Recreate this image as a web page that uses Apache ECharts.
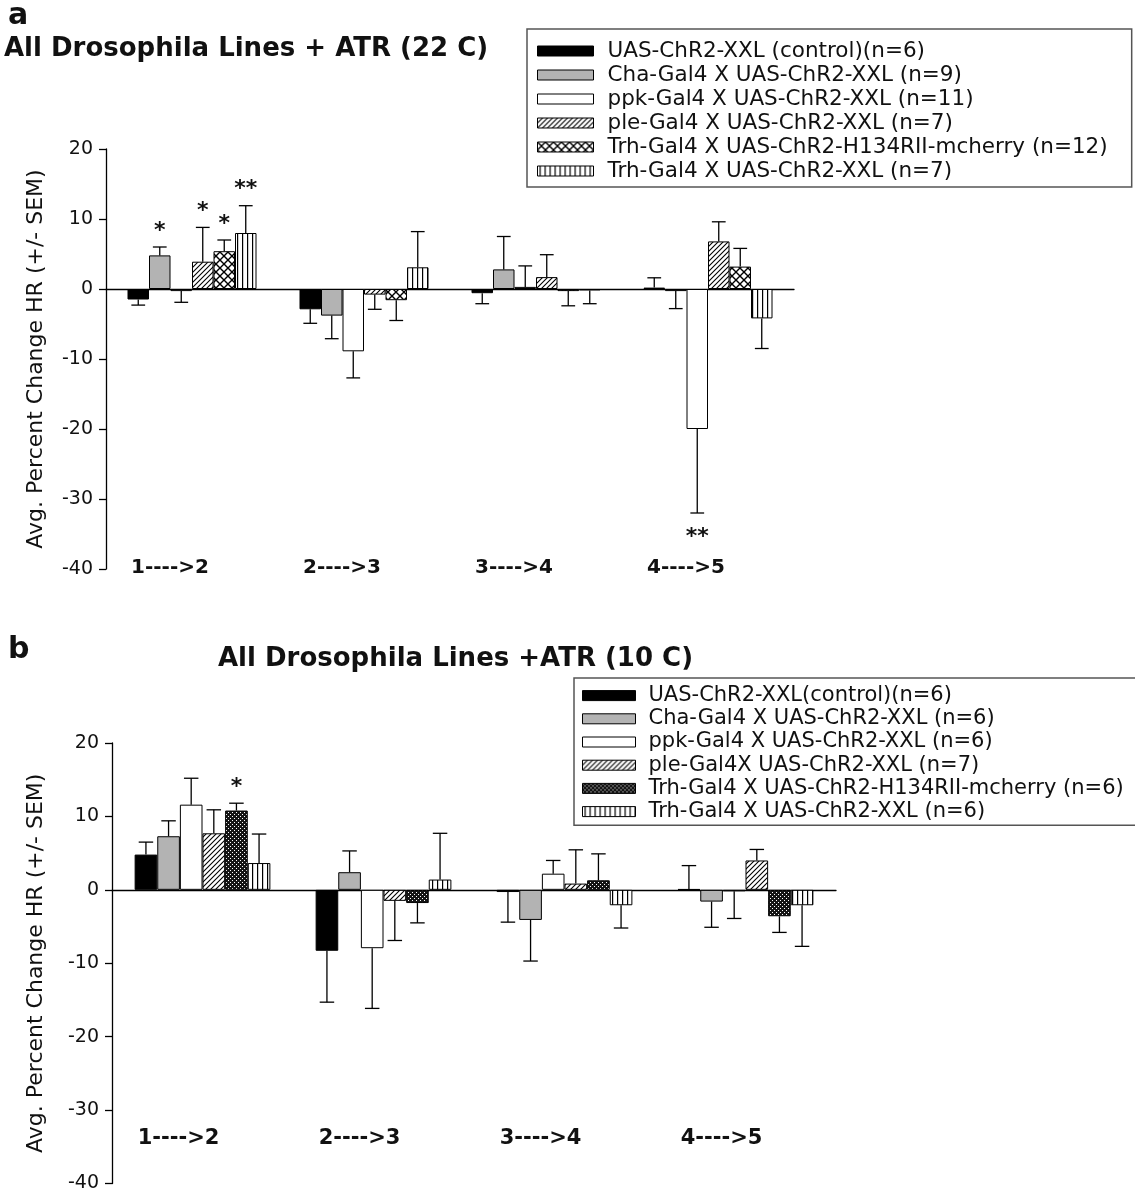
<!DOCTYPE html>
<html><head><meta charset="utf-8">
<script src="https://cdn.jsdelivr.net/npm/echarts@6/dist/echarts.min.js"></script>
<style>html,body{margin:0;padding:0;background:#fff}#c{width:1135px;height:1193px}</style>
</head><body><div id="c"></div>
<script>
// ---------- data ----------
const categories = ['1---->2', '2---->3', '3---->4', '4---->5'];
const yTicks = [-40, -30, -20, -10, 0, 10, 20];

const titleA = 'All Drosophila Lines + ATR (22 C)';
const titleB = 'All Drosophila Lines +ATR (10 C)';
const yName = 'Avg. Percent Change HR (+/- SEM)';

const namesA = [
  'UAS-ChR2-XXL (control)(n=6)',
  'Cha-Gal4 X UAS-ChR2-XXL (n=9)',
  'ppk-Gal4 X UAS-ChR2-XXL (n=11)',
  'ple-Gal4 X UAS-ChR2-XXL (n=7)',
  'Trh-Gal4 X UAS-ChR2-H134RII-mcherry (n=12)',
  'Trh-Gal4 X UAS-ChR2-XXL (n=7)'
];
const meanA = [
  [-1.5, -2.9, -0.6, 0.2],
  [4.8, -3.8, 2.8, -0.3],
  [-0.3, -8.9, 0.3, -20.0],
  [3.9, -0.8, 1.7, 6.8],
  [5.4, -1.6, -0.3, 3.2],
  [8.0, 3.1, -0.2, -4.2]
];
const semA = [
  [0.8, 2.0, 1.5, 1.4],
  [1.2, 3.3, 4.7, 2.5],
  [1.6, 3.8, 3.0, 12.0],
  [4.9, 2.1, 3.2, 2.8],
  [1.6, 2.9, 2.1, 2.6],
  [3.9, 5.1, 1.9, 4.3]
];
const starsA = [
  ['', '', '', ''],
  ['*', '', '', ''],
  ['', '', '', '**'],
  ['*', '', '', ''],
  ['*', '', '', ''],
  ['**', '', '', '']
];

const namesB = [
  'UAS-ChR2-XXL(control)(n=6)',
  'Cha-Gal4 X UAS-ChR2-XXL (n=6)',
  'ppk-Gal4 X UAS-ChR2-XXL (n=6)',
  'ple-Gal4X UAS-ChR2-XXL (n=7)',
  'Trh-Gal4 X UAS-ChR2-H134RII-mcherry (n=6)',
  'Trh-Gal4 X UAS-ChR2-XXL (n=6)'
];
const meanB = [
  [4.8, -8.3, -0.3, 0.1],
  [7.3, 2.4, -4.1, -1.6],
  [11.6, -7.95, 2.2, -0.2],
  [7.7, -1.5, 0.85, 4.0],
  [10.8, -1.8, 1.3, -3.6],
  [3.65, 1.4, -2.1, -2.1]
];
const semB = [
  [1.7, 7.0, 4.1, 3.2],
  [2.1, 2.9, 5.6, 3.5],
  [3.6, 8.2, 1.8, 3.7],
  [3.2, 5.4, 4.6, 1.5],
  [1.0, 2.7, 3.6, 2.2],
  [3.95, 6.3, 3.1, 5.6]
];
const starsB = [
  ['', '', '', ''],
  ['', '', '', ''],
  ['', '', '', ''],
  ['', '', '', ''],
  ['*', '', '', ''],
  ['', '', '', '']
];

// ---------- fills (patterns) ----------
function pat(w, h, draw) {
  const cv = document.createElement('canvas');
  cv.width = w; cv.height = h;
  const g = cv.getContext('2d');
  g.fillStyle = '#fff'; g.fillRect(0, 0, w, h);
  draw(g, w, h);
  return { image: cv, repeat: 'repeat' };
}
const diag = pat(5, 5, g => {
  g.strokeStyle = '#000'; g.lineWidth = 1.1; g.beginPath();
  g.moveTo(0, 5); g.lineTo(5, 0);
  g.moveTo(-1, 1); g.lineTo(1, -1);
  g.moveTo(4, 6); g.lineTo(6, 4);
  g.stroke();
});
const cross = pat(8, 8, g => {
  g.strokeStyle = '#000'; g.lineWidth = 1.4; g.beginPath();
  g.moveTo(0, 0); g.lineTo(8, 8);
  g.moveTo(0, 8); g.lineTo(8, 0);
  g.stroke();
});
const vert = pat(5, 5, g => {
  g.fillStyle = '#000'; g.fillRect(2, 0, 1.2, 5);
});
const dots = pat(4, 4, g => {
  g.fillStyle = '#151515'; g.fillRect(0, 0, 4, 4);
  g.fillStyle = '#fff'; g.fillRect(0, 0, 1, 1); g.fillRect(2, 2, 1, 1);
});
const fillsA = ['#000', '#b3b3b3', '#fff', diag, cross, vert];
const fillsB = ['#000', '#b3b3b3', '#fff', diag, dots, vert];

// ---------- build ----------
const FONT = 'DejaVu Sans';

function errData(mean, sem) {
  const d = [];
  for (let s = 0; s < mean.length; s++)
    for (let c = 0; c < categories.length; c++) d.push([c, mean[s][c], sem[s][c], s]);
  return d;
}
function errSeries(gi, mean, sem, stars) {
  return {
    type: 'custom', xAxisIndex: gi * 2, yAxisIndex: gi, clip: false, z: 3,
    encode: { x: 0, y: 1 },
    data: errData(mean, sem),
    renderItem: function (params, api) {
      const c = api.value(0), v = api.value(1), e = api.value(2), s = api.value(3);
      const band = api.size([1, 0])[0];
      const bw = band * 0.75 / 6;
      const x = api.coord([c, 0])[0] + (s - 2.5) * bw;
      const dir = v >= 0 ? 1 : -1;
      const y0 = api.coord([c, v])[1];
      const y1 = api.coord([c, v + dir * e])[1];
      const cap = bw * 0.32;
      const ls = { stroke: '#000', lineWidth: 1.3 };
      const ch = [
        { type: 'line', shape: { x1: x, y1: y0, x2: x, y2: y1 }, style: ls },
        { type: 'line', shape: { x1: x - cap, y1: y1, x2: x + cap, y2: y1 }, style: ls }
      ];
      const st = stars[s][c];
      if (st) ch.push({
        type: 'text', style: {
          text: st, x: x, y: dir > 0 ? y1 - 16 : y1 + 24, align: 'center', verticalAlign: 'middle',
          font: 'bold 22px "' + FONT + '"', fill: '#111'
        }
      });
      return { type: 'group', children: ch };
    }
  };
}
function barSeries(gi, names, mean, fills) {
  return names.map((n, s) => ({
    type: 'bar', name: n, xAxisIndex: gi * 2, yAxisIndex: gi,
    data: mean[s], barGap: '0%', barCategoryGap: '25%',
    itemStyle: { color: fills[s], borderColor: '#000', borderWidth: 1 },
    emphasis: { disabled: true }
  }));
}
function yAxis(gi, gap) {
  return {
    type: 'value', gridIndex: gi, min: yTicks[0], max: yTicks[yTicks.length - 1], interval: 10,
    axisLine: { show: true, onZero: false, lineStyle: { color: '#000', width: 1.3 } },
    axisTick: { show: true, length: 7, lineStyle: { color: '#000', width: 1.3 } },
    axisLabel: { fontFamily: FONT, fontSize: 19, color: '#111', margin: 13 },
    splitLine: { show: false },
    name: yName, nameLocation: 'middle', nameGap: gap,
    nameTextStyle: { fontFamily: FONT, fontSize: 22, color: '#111' }
  };
}
function xAxes(gi, labelMargin, shift, fs) {
  return [
    {
      type: 'category', gridIndex: gi, data: categories, position: 'bottom',
      axisLine: { show: true, onZero: true, lineStyle: { color: '#000', width: 1.3 } },
      axisTick: { show: false }, axisLabel: { show: false }
    },
    {
      type: 'category', gridIndex: gi, data: categories, position: 'bottom',
      axisLine: { show: false, onZero: false }, axisTick: { show: false },
      axisLabel: {
        fontFamily: FONT, fontSize: fs, fontWeight: 'bold', color: '#111',
        margin: labelMargin, verticalAlign: 'middle', padding: [0, shift, 0, 0]
      }
    }
  ];
}
function legend(names, left, top, iw, padding, fs, lh, tpad) {
  return {
    orient: 'vertical', left: left, top: top, data: names, icon: 'rect',
    itemWidth: iw, itemHeight: 10, itemGap: 0, padding: padding,
    borderColor: '#555', borderWidth: 1.5, selectedMode: false,
    itemStyle: { borderColor: '#000', borderWidth: 1 },
    textStyle: { fontFamily: FONT, fontSize: fs, lineHeight: lh, color: '#111', padding: [0, 0, 0, tpad] }
  };
}

const option = {
  animation: false,
  backgroundColor: '#fff',
  title: [
    { text: 'a', left: 8, top: 1, padding: 0, textStyle: { fontFamily: FONT, fontSize: 30, fontWeight: 'bold', color: '#111' } },
    { text: titleA, left: 4, top: 36, padding: 0, textStyle: { fontFamily: FONT, fontSize: 26, fontWeight: 'bold', color: '#111' } },
    { text: 'b', left: 8, top: 635, padding: 0, textStyle: { fontFamily: FONT, fontSize: 30, fontWeight: 'bold', color: '#111' } },
    { text: titleB, left: 218, top: 646, padding: 0, textStyle: { fontFamily: FONT, fontSize: 26, fontWeight: 'bold', color: '#111' } }
  ],
  legend: [
    legend(namesA, 527, 29, 56, [10, 24, 4, 10], 21.5, 24, 9),
    legend(namesB, 574, 678, 53, [6, 40, 2, 8], 21, 23.2, 8)
  ],
  grid: [
    { left: 106, top: 149, width: 688, height: 420 },
    { left: 112, top: 743, width: 724, height: 442 }
  ],
  xAxis: [].concat(xAxes(0, -1, 44, 20), xAxes(1, -45, 48, 21)),
  yAxis: [yAxis(0, 59), yAxis(1, 65)],
  series: [].concat(
    barSeries(0, namesA, meanA, fillsA),
    [errSeries(0, meanA, semA, starsA)],
    barSeries(1, namesB, meanB, fillsB),
    [errSeries(1, meanB, semB, starsB)]
  )
};
const chart = echarts.init(document.getElementById('c'), null, { renderer: 'canvas' });
chart.setOption(option);
</script>
</body></html>
